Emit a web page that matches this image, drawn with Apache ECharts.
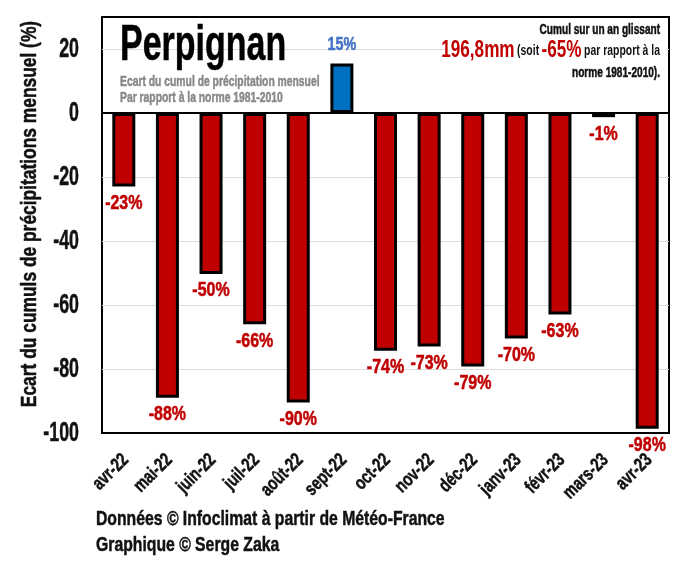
<!DOCTYPE html>
<html><head><meta charset="utf-8">
<style>html,body{margin:0;padding:0;background:#fff}#c{width:680px;height:568px}</style>
<script src="https://cdn.jsdelivr.net/npm/echarts@6/dist/echarts.min.js"></script></head>
<body><div id="c"></div>
<script>
const categories=['avr-22','mai-22','juin-22','juil-22','août-22','sept-22','oct-22','nov-22','déc-22','janv-23','févr-23','mars-23','avr-23'];
const values=[-23,-89,-50.3,-66,-90.5,15.5,-74.3,-73,-79.2,-70.5,-63,-1.3,-98.7];
const labels=['-23%','-88%','-50%','-66%','-90%','15%','-74%','-73%','-79%','-70%','-63%','-1%','-98%'];
const yTicks=[20,0,-20,-40,-60,-80,-100];
const FONT='"Liberation Sans",Arial,sans-serif';
const RED='#c00000',BLUE='#0070c0',LBLUE='#4472c4',INK='#111';
const txt=(text,x,y,size,fill,sx,align,rot)=>({type:'text',x,y,scaleX:sx,rotation:rot||0,z:100,
  style:{text,font:'bold '+size+'px '+FONT,fill,stroke:fill,lineWidth:.5,align:align||'left',verticalAlign:'middle'}});
const chart=echarts.init(document.getElementById('c'),null,{renderer:'canvas'});
chart.setOption({
 animation:false,backgroundColor:'#fff',
 grid:{left:102,top:17,width:567,height:416,outerBoundsMode:'none',containLabel:false,show:true,borderColor:'#000',borderWidth:2,backgroundColor:'transparent'},
 xAxis:{type:'category',data:categories,
  axisLine:{onZero:true,lineStyle:{color:'#000',width:2}},axisTick:{show:false},axisLabel:{show:false},z:5},
 yAxis:{type:'value',min:-100,max:30,interval:20,
  axisLine:{show:false},axisTick:{show:false},axisLabel:{show:false},
  splitLine:{show:true,showMinLine:false,showMaxLine:false,lineStyle:{color:'#dcdcdc',width:1}}},
 series:[
  {type:'bar',barWidth:23,z:3,silent:true,
   data:values.map(v=>({value:v,itemStyle:{color:v>0?BLUE:RED,borderColor:'#000',borderWidth:3}}))},
  {type:'custom',z:6,silent:true,data:values.map((v,i)=>[i,v]),
   renderItem:(p,api)=>{const v=api.value(1),c=api.coord([api.value(0),v]);
     return txt(labels[p.dataIndex],c[0],c[1]+(v>0?-18:17),v>0?18:20,v>0?LBLUE:RED,.8,'center');}},
  {type:'custom',z:7,silent:true,data:categories.map((c,i)=>[i,-100]),
   renderItem:(p,api)=>{const c=api.coord([api.value(0),-100]);
     return txt(categories[p.dataIndex],c[0]+2,c[1]+24,19,INK,.76,'right',Math.PI/4);}},
  {type:'custom',z:7,silent:true,data:yTicks.map(t=>[0,t]),
   renderItem:(p,api)=>{const c=api.coord([0,api.value(1)]);
     return txt(String(api.value(1)),79,c[1]+1,27,INK,.66,'right');}}
 ],
 graphic:[
  {type:'rect',z:50,shape:{x:445,y:20,width:222,height:62},style:{fill:'#fff'}},
  txt('Ecart du cumuls de précipitations mensuel (%)',30,214,22,INK,.79,'center',Math.PI/2),
  txt('Perpignan',120,46,50,'#000',.68),
  txt('Ecart du cumul de précipitation mensuel',120,82,15,'#888',.69),
  txt('Par rapport à la norme 1981-2010',120,98,15,'#888',.69),
  txt('Cumul sur un an glissant',660,30,14,INK,.72,'right'),
  {type:'text',x:660,y:51,scaleX:.745,z:100,style:{text:'{a|196,8mm} {b|(soit} {a|-65%} {b|par rapport à la}',align:'right',verticalAlign:'middle',
    rich:{a:{fontFamily:FONT,fontWeight:'bold',fontSize:23,fill:RED},b:{fontFamily:FONT,fontWeight:'bold',fontSize:14,fill:INK}}}},
  txt('norme 1981-2010).',660,73,14,INK,.72,'right'),
  txt('Données © Infoclimat à partir de Météo-France',96,519,21,INK,.75),
  txt('Graphique © Serge Zaka',96,545,21,INK,.75)
 ]
});
</script></body></html>
